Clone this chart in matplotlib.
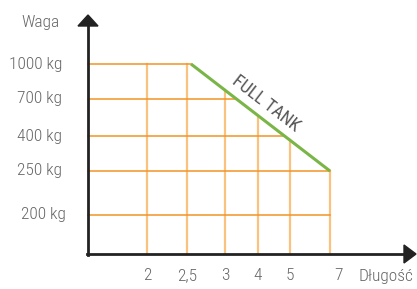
import numpy as np
import matplotlib.pyplot as plt
from matplotlib.patches import Polygon

# dane
dlugosc = ['2', '2,5', '3', '4', '5', '7']
waga = ['1000 kg', '700 kg', '400 kg', '250 kg', '200 kg']
full_tank_x = ['2,5', '7']          # początek i koniec linii FULL TANK
full_tank_y = ['1000 kg', '250 kg']

# układ (pozycje w pikselach rysunku)
x_pos = [147, 187, 225, 258, 290, 330]
y_pos = [64, 99, 136, 171, 215]
x0, y0 = 88, 254

plt.rcParams['font.family'] = ['Roboto Condensed', 'Roboto', 'DejaVu Sans']
plt.rcParams['font.weight'] = 'light'
szary = '#666666'
pomaranczowy = '#f39325'
jasny = '#f9c27f'
zielony = '#7ab547'

fig = plt.figure(figsize=(4.17, 2.89), dpi=100)
ax = fig.add_axes([0, 0, 1, 1])
ax.set_xlim(0, 417)
ax.set_ylim(289, 0)
ax.axis('off')

px = dict(zip(dlugosc, x_pos))
py = dict(zip(waga, y_pos))
gx = [px[v] for v in full_tank_x]
gy = [py[v] for v in full_tank_y]
gx[0] += 4


def linia_y(x):
    # wysokość linii FULL TANK nad danym x
    if x <= gx[0]:
        return gy[0]
    return gy[0] + (x - gx[0]) * (gy[1] - gy[0]) / (gx[1] - gx[0])


def linia_x(y):
    if y >= gy[1]:
        return gx[1]
    return gx[0] + (y - gy[0]) * (gx[1] - gx[0]) / (gy[1] - gy[0])


# siatka pionowa
for x in x_pos:
    ax.plot([x, x], [linia_y(x), y0], color=jasny, lw=1.6, zorder=1)

# siatka pozioma
for y in y_pos:
    ax.plot([x0, linia_x(y)], [y, y], color=pomaranczowy, lw=1.1, zorder=2)

# linia FULL TANK
ax.plot(gx, gy, color=zielony, lw=2.2, solid_capstyle='butt', zorder=3)
kat = np.degrees(np.arctan2(gy[1] - gy[0], gx[1] - gx[0]))
ax.text(266, 104, 'FULL TANK', rotation=-kat, rotation_mode='anchor',
        ha='center', va='center', fontsize=13, fontweight='normal',
        color='#555555')

# osie ze strzałkami
ax.plot([x0, x0], [y0 + 1, 24], color='#222222', lw=2, zorder=4)
ax.plot([x0 - 1, 406], [y0, y0], color='#222222', lw=2, zorder=4)
ax.add_patch(Polygon([[x0 - 10, 26], [x0 + 10, 26], [x0, 15]], closed=True,
                     color='#222222', zorder=5))
ax.add_patch(Polygon([[404, y0 - 9], [404, y0 + 9], [416, y0]], closed=True,
                     color='#222222', zorder=5))

# etykiety
fs = 12.5
for lab, y in zip(waga, y_pos):
    dx = 4 if lab == '200 kg' else 0
    ax.text(62 + dx, y, lab, ha='right', va='center', fontsize=fs, color=szary)
for lab, x in zip(dlugosc, x_pos):
    dx = 8 if lab == '7' else 0
    ax.text(x + dx, 276, lab, ha='center', va='center', fontsize=fs, color=szary)
ax.text(41, 23, 'Waga', ha='center', va='center', fontsize=fs, color=szary)
ax.text(359, 276, 'Długość', ha='left', va='center', fontsize=fs, color=szary)

fig.savefig('out.png', dpi=100)
